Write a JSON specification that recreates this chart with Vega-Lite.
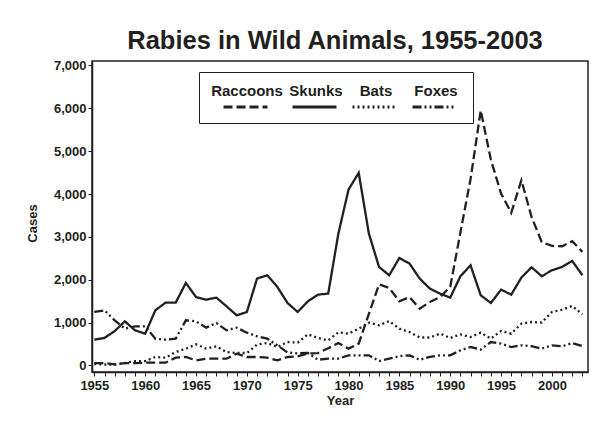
{
  "$schema": "https://vega.github.io/schema/vega-lite/v6.json",
  "width": 496,
  "height": 311,
  "autosize": {"type": "none"},
  "padding": {"left": 92, "top": 61, "right": 22, "bottom": 49},
  "background": "white",
  "title": {
    "text": "Rabies in Wild Animals, 1955-2003",
    "font": "Liberation Sans",
    "fontSize": 25.5,
    "fontWeight": "bold",
    "color": "#231f20",
    "anchor": "middle",
    "offset": 5,
    "dx": -5
  },
  "data": {
    "values": [
      {"year":1955,"species":"Raccoons","cases":54},{"year":1956,"species":"Raccoons","cases":54},{"year":1957,"species":"Raccoons","cases":25},{"year":1958,"species":"Raccoons","cases":54},{"year":1959,"species":"Raccoons","cases":54},{"year":1960,"species":"Raccoons","cases":62},{"year":1961,"species":"Raccoons","cases":62},{"year":1962,"species":"Raccoons","cases":62},{"year":1963,"species":"Raccoons","cases":179},{"year":1964,"species":"Raccoons","cases":195},{"year":1965,"species":"Raccoons","cases":117},{"year":1966,"species":"Raccoons","cases":156},{"year":1967,"species":"Raccoons","cases":156},{"year":1968,"species":"Raccoons","cases":156},{"year":1969,"species":"Raccoons","cases":273},{"year":1970,"species":"Raccoons","cases":195},{"year":1971,"species":"Raccoons","cases":195},{"year":1972,"species":"Raccoons","cases":179},{"year":1973,"species":"Raccoons","cases":117},{"year":1974,"species":"Raccoons","cases":195},{"year":1975,"species":"Raccoons","cases":210},{"year":1976,"species":"Raccoons","cases":280},{"year":1977,"species":"Raccoons","cases":287},{"year":1978,"species":"Raccoons","cases":400},{"year":1979,"species":"Raccoons","cases":521},{"year":1980,"species":"Raccoons","cases":390},{"year":1981,"species":"Raccoons","cases":507},{"year":1982,"species":"Raccoons","cases":1200},{"year":1983,"species":"Raccoons","cases":1893},{"year":1984,"species":"Raccoons","cases":1806},{"year":1985,"species":"Raccoons","cases":1495},{"year":1986,"species":"Raccoons","cases":1596},{"year":1987,"species":"Raccoons","cases":1324},{"year":1988,"species":"Raccoons","cases":1480},{"year":1989,"species":"Raccoons","cases":1596},{"year":1990,"species":"Raccoons","cases":1830},{"year":1991,"species":"Raccoons","cases":3100},{"year":1992,"species":"Raccoons","cases":4350},{"year":1993,"species":"Raccoons","cases":5950},{"year":1994,"species":"Raccoons","cases":4800},{"year":1995,"species":"Raccoons","cases":4011},{"year":1996,"species":"Raccoons","cases":3560},{"year":1997,"species":"Raccoons","cases":4322},{"year":1998,"species":"Raccoons","cases":3465},{"year":1999,"species":"Raccoons","cases":2880},{"year":2000,"species":"Raccoons","cases":2788},{"year":2001,"species":"Raccoons","cases":2780},{"year":2002,"species":"Raccoons","cases":2897},{"year":2003,"species":"Raccoons","cases":2650},
      {"year":1955,"species":"Skunks","cases":600},{"year":1956,"species":"Skunks","cases":640},{"year":1957,"species":"Skunks","cases":800},{"year":1958,"species":"Skunks","cases":1028},{"year":1959,"species":"Skunks","cases":818},{"year":1960,"species":"Skunks","cases":740},{"year":1961,"species":"Skunks","cases":1285},{"year":1962,"species":"Skunks","cases":1464},{"year":1963,"species":"Skunks","cases":1464},{"year":1964,"species":"Skunks","cases":1924},{"year":1965,"species":"Skunks","cases":1596},{"year":1966,"species":"Skunks","cases":1534},{"year":1967,"species":"Skunks","cases":1581},{"year":1968,"species":"Skunks","cases":1379},{"year":1969,"species":"Skunks","cases":1168},{"year":1970,"species":"Skunks","cases":1246},{"year":1971,"species":"Skunks","cases":2025},{"year":1972,"species":"Skunks","cases":2103},{"year":1973,"species":"Skunks","cases":1830},{"year":1974,"species":"Skunks","cases":1456},{"year":1975,"species":"Skunks","cases":1246},{"year":1976,"species":"Skunks","cases":1495},{"year":1977,"species":"Skunks","cases":1651},{"year":1978,"species":"Skunks","cases":1675},{"year":1979,"species":"Skunks","cases":3076},{"year":1980,"species":"Skunks","cases":4104},{"year":1981,"species":"Skunks","cases":4494},{"year":1982,"species":"Skunks","cases":3076},{"year":1983,"species":"Skunks","cases":2297},{"year":1984,"species":"Skunks","cases":2103},{"year":1985,"species":"Skunks","cases":2507},{"year":1986,"species":"Skunks","cases":2375},{"year":1987,"species":"Skunks","cases":2025},{"year":1988,"species":"Skunks","cases":1791},{"year":1989,"species":"Skunks","cases":1674},{"year":1990,"species":"Skunks","cases":1581},{"year":1991,"species":"Skunks","cases":2079},{"year":1992,"species":"Skunks","cases":2336},{"year":1993,"species":"Skunks","cases":1635},{"year":1994,"species":"Skunks","cases":1456},{"year":1995,"species":"Skunks","cases":1768},{"year":1996,"species":"Skunks","cases":1651},{"year":1997,"species":"Skunks","cases":2050},{"year":1998,"species":"Skunks","cases":2290},{"year":1999,"species":"Skunks","cases":2080},{"year":2000,"species":"Skunks","cases":2220},{"year":2001,"species":"Skunks","cases":2297},{"year":2002,"species":"Skunks","cases":2437},{"year":2003,"species":"Skunks","cases":2103},
      {"year":1955,"species":"Bats","cases":30},{"year":1956,"species":"Bats","cases":20},{"year":1957,"species":"Bats","cases":15},{"year":1958,"species":"Bats","cases":54},{"year":1959,"species":"Bats","cases":100},{"year":1960,"species":"Bats","cases":100},{"year":1961,"species":"Bats","cases":195},{"year":1962,"species":"Bats","cases":179},{"year":1963,"species":"Bats","cases":311},{"year":1964,"species":"Bats","cases":390},{"year":1965,"species":"Bats","cases":491},{"year":1966,"species":"Bats","cases":390},{"year":1967,"species":"Bats","cases":444},{"year":1968,"species":"Bats","cases":311},{"year":1969,"species":"Bats","cases":288},{"year":1970,"species":"Bats","cases":288},{"year":1971,"species":"Bats","cases":483},{"year":1972,"species":"Bats","cases":522},{"year":1973,"species":"Bats","cases":428},{"year":1974,"species":"Bats","cases":545},{"year":1975,"species":"Bats","cases":530},{"year":1976,"species":"Bats","cases":724},{"year":1977,"species":"Bats","cases":640},{"year":1978,"species":"Bats","cases":584},{"year":1979,"species":"Bats","cases":771},{"year":1980,"species":"Bats","cases":740},{"year":1981,"species":"Bats","cases":857},{"year":1982,"species":"Bats","cases":997},{"year":1983,"species":"Bats","cases":934},{"year":1984,"species":"Bats","cases":1035},{"year":1985,"species":"Bats","cases":857},{"year":1986,"species":"Bats","cases":779},{"year":1987,"species":"Bats","cases":650},{"year":1988,"species":"Bats","cases":650},{"year":1989,"species":"Bats","cases":740},{"year":1990,"species":"Bats","cases":639},{"year":1991,"species":"Bats","cases":724},{"year":1992,"species":"Bats","cases":662},{"year":1993,"species":"Bats","cases":764},{"year":1994,"species":"Bats","cases":623},{"year":1995,"species":"Bats","cases":802},{"year":1996,"species":"Bats","cases":740},{"year":1997,"species":"Bats","cases":974},{"year":1998,"species":"Bats","cases":1012},{"year":1999,"species":"Bats","cases":1000},{"year":2000,"species":"Bats","cases":1245},{"year":2001,"species":"Bats","cases":1300},{"year":2002,"species":"Bats","cases":1386},{"year":2003,"species":"Bats","cases":1192},
      {"year":1955,"species":"Foxes","cases":1246},{"year":1956,"species":"Foxes","cases":1285},{"year":1957,"species":"Foxes","cases":1050},{"year":1958,"species":"Foxes","cases":857},{"year":1959,"species":"Foxes","cases":911},{"year":1960,"species":"Foxes","cases":911},{"year":1961,"species":"Foxes","cases":623},{"year":1962,"species":"Foxes","cases":600},{"year":1963,"species":"Foxes","cases":623},{"year":1964,"species":"Foxes","cases":1051},{"year":1965,"species":"Foxes","cases":1028},{"year":1966,"species":"Foxes","cases":880},{"year":1967,"species":"Foxes","cases":989},{"year":1968,"species":"Foxes","cases":818},{"year":1969,"species":"Foxes","cases":880},{"year":1970,"species":"Foxes","cases":763},{"year":1971,"species":"Foxes","cases":678},{"year":1972,"species":"Foxes","cases":623},{"year":1973,"species":"Foxes","cases":467},{"year":1974,"species":"Foxes","cases":300},{"year":1975,"species":"Foxes","cases":280},{"year":1976,"species":"Foxes","cases":290},{"year":1977,"species":"Foxes","cases":132},{"year":1978,"species":"Foxes","cases":156},{"year":1979,"species":"Foxes","cases":156},{"year":1980,"species":"Foxes","cases":234},{"year":1981,"species":"Foxes","cases":234},{"year":1982,"species":"Foxes","cases":234},{"year":1983,"species":"Foxes","cases":101},{"year":1984,"species":"Foxes","cases":156},{"year":1985,"species":"Foxes","cases":218},{"year":1986,"species":"Foxes","cases":234},{"year":1987,"species":"Foxes","cases":130},{"year":1988,"species":"Foxes","cases":200},{"year":1989,"species":"Foxes","cases":234},{"year":1990,"species":"Foxes","cases":234},{"year":1991,"species":"Foxes","cases":350},{"year":1992,"species":"Foxes","cases":428},{"year":1993,"species":"Foxes","cases":366},{"year":1994,"species":"Foxes","cases":545},{"year":1995,"species":"Foxes","cases":506},{"year":1996,"species":"Foxes","cases":428},{"year":1997,"species":"Foxes","cases":467},{"year":1998,"species":"Foxes","cases":446},{"year":1999,"species":"Foxes","cases":390},{"year":2000,"species":"Foxes","cases":467},{"year":2001,"species":"Foxes","cases":444},{"year":2002,"species":"Foxes","cases":521},{"year":2003,"species":"Foxes","cases":452}
    ]
  },
  "mark": {"type": "line", "color": "#231f20", "strokeWidth": 2.3, "clip": true},
  "encoding": {
    "x": {
      "field": "year",
      "type": "quantitative",
      "scale": {"domain": [1954.77, 2003.55], "nice": false, "zero": false},
      "axis": {
        "title": "Year",
        "values": [1955,1956,1957,1958,1959,1960,1961,1962,1963,1964,1965,1966,1967,1968,1969,1970,1971,1972,1973,1974,1975,1976,1977,1978,1979,1980,1981,1982,1983,1984,1985,1986,1987,1988,1989,1990,1991,1992,1993,1994,1995,1996,1997,1998,1999,2000,2001,2002,2003],
        "labelExpr": "datum.value % 5 == 0 ? datum.value : ''",
        "format": "d",
        "labelOverlap": false,
        "labelFlush": false,
        "tickSize": 4,
        "labelPadding": 3,
        "titlePadding": 2
      }
    },
    "y": {
      "field": "cases",
      "type": "quantitative",
      "scale": {"domain": [-155, 7105], "nice": false, "zero": false},
      "axis": {
        "title": "Cases",
        "values": [0,1000,2000,3000,4000,5000,6000,7000],
        "format": ",d",
        "tickSize": 4,
        "labelPadding": 2,
        "titlePadding": 14,
        "titleY": 162
      }
    },
    "strokeDash": {
      "field": "species",
      "type": "nominal",
      "scale": {
        "domain": ["Raccoons", "Skunks", "Bats", "Foxes"],
        "range": [[9, 4], [1, 0], [2, 3], [9, 3, 2, 3, 2, 3]]
      },
      "legend": {
        "title": " ",
        "titleOrient": "left",
        "titleFontSize": 1,
        "titlePadding": 13,
        "orient": "none",
        "legendX": 107,
        "legendY": 11,
        "direction": "horizontal",
        "columns": 4,
        "columnPadding": 3,
        "padding": 10,
        "strokeColor": "#231f20",
        "fillColor": "white",
        "symbolType": "M-1,2.133H4.867",
        "symbolSize": 225,
        "symbolStrokeWidth": 3,
        "symbolStrokeColor": "#231f20",
        "labelFont": "Liberation Sans",
        "labelFontSize": 15,
        "labelFontWeight": "bold",
        "labelColor": "#231f20",
        "labelAlign": "center",
        "labelBaseline": "middle",
        "labelOffset": 7,
        "labelLimit": 200
      }
    }
  },
  "config": {
    "view": {"stroke": "#231f20", "strokeWidth": 1.5},
    "axis": {
      "grid": false,
      "domainColor": "#231f20",
      "domainWidth": 1.5,
      "tickColor": "#231f20",
      "tickWidth": 1,
      "labelFont": "Liberation Sans",
      "labelFontSize": 13,
      "labelFontWeight": "bold",
      "labelColor": "#231f20",
      "titleFont": "Liberation Sans",
      "titleFontSize": 13,
      "titleFontWeight": "bold",
      "titleColor": "#231f20"
    }
  }
}
